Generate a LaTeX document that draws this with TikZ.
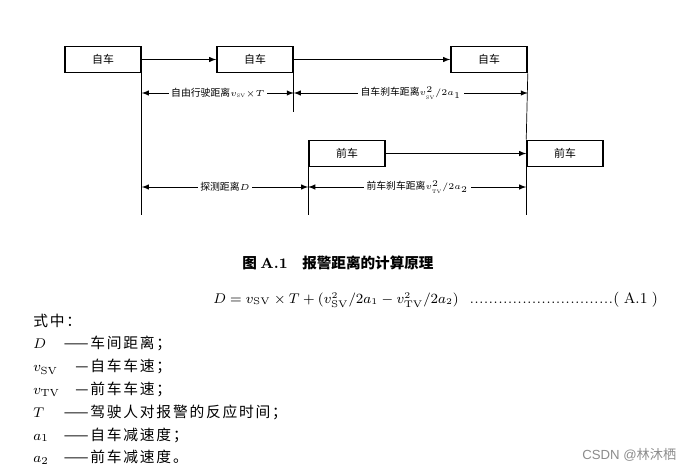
\documentclass[tikz,border=0pt]{standalone}
\usepackage{fontspec}
\newfontfamily\cjk{Noto Sans CJK SC}
\newfontfamily\cjkwide[LetterSpace=12]{Noto Sans CJK SC}
\newfontfamily\wmfont{Liberation Sans}
\usetikzlibrary{arrows,positioning}
\begin{document}
\begin{tikzpicture}
[x=0.02cm, y=-0.02cm, >=latex, font=\cjk\fontsize{6.2}{7}\selectfont]

\tikzstyle{car}=[rectangle, draw, line width=0.9pt, minimum width=1.52cm, minimum height=0.52cm, inner sep=0pt]
\tikzstyle{gap}=[fill=white, inner sep=1.5pt, font=\cjk\fontsize{5.6}{6}\selectfont]
\tikzstyle{item}=[anchor=base west, inner sep=0pt, font=\cjkwide\fontsize{8.4}{9}\selectfont]
\tikzstyle{rule}=[anchor=base east, inner sep=0pt, font=\cjk\fontsize{8.4}{9}\selectfont]

\useasboundingbox (0,0) rectangle (695,473);

\node[car]	(S1)	at (103,59.5)	{自车};
\node[car]	(S2)	at (255,59.5)	{自车};
\node[car]	(S3)	at (489,59.5)	{自车};
\node[car]	(F1)	at (347,153.5)	{前车};
\node[car]	(F2)	at (565,153.5)	{前车};

\coordinate	(mid)	at (0,112);
\coordinate	(low)	at (0,215);
\coordinate	(r1)	at (0,93);
\coordinate	(r2)	at (0,187);

\draw [->] (S1)--(S2);
\draw [->] (S2)--(S3);
\draw [->] (F1)--(F2);

\draw (S1.south east)--(S1.south east |- low);
\draw (S2.south east)--(S2.south east |- mid);
\draw (S3.south east)--(F2.north west);
\draw (F2.south west)--(F2.south west |- low);
\draw (F1.south west)--(F1.south west |- low);

\draw [<->] (S1.south east |- r1)-- node[gap] {自由行驶距离$\scriptstyle v_{\mathrm{SV}}{\times}T$} (S2.south east |- r1);
\draw [<->] (S2.south east |- r1)-- node[gap] {自车刹车距离$\scriptstyle v_{\mathrm{SV}}^2/2a_1$} (S3.south east |- r1);
\draw [<->] (S1.south east |- r2)-- node[gap] {探测距离$\scriptstyle D$} (F1.south west |- r2);
\draw [<->] (F1.south west |- r2)-- node[gap] {前车刹车距离$\scriptstyle v_{\mathrm{TV}}^2/2a_2$} (F2.south west |- r2);

\node[font=\cjk\bfseries\fontsize{8.3}{9}\selectfont] (cap) at (338,263) {图\ {\rmfamily\bfseries A.1}\quad 报警距离的计算原理};

\node[anchor=base west, inner sep=0pt, font=\fontsize{7.8}{9}\selectfont] (eq) at (213,303) {$D=v_{\mathrm{SV}}\times T+(v_{\mathrm{SV}}^2/2a_1-v_{\mathrm{TV}}^2/2a_2)$};
\node[anchor=base west, inner sep=0pt, font=\fontsize{7.8}{9}\selectfont] (dots) at (469,303) {\makebox[2.88cm]{\xleaders\hbox to 2.7pt{\hss.\hss}\hfill}};
\node[anchor=base west, inner sep=0pt, font=\fontsize{8.6}{10}\selectfont] (num) at (613,303) {(\hspace{2.5pt}A.1\hspace{2.5pt})};

\node[item]	(head)	at (33,326)	{式中：};
\node[item]	(sD)	at (33,348.8)	{$D$};
\node[item]	(sV1)	at (33,371.6)	{$v_{\mathrm{SV}}$};
\node[item]	(sV2)	at (33,394.4)	{$v_{\mathrm{TV}}$};
\node[item]	(sT)	at (33,417.2)	{$T$};
\node[item]	(sA1)	at (33,440)	{$a_1$};
\node[item]	(sA2)	at (33,462.8)	{$a_2$};

\foreach \y in {348.8,417.2,440,462.8}
	\node[rule] at (89,\y) {——};
\foreach \y in {371.6,394.4}
	\node[rule] at (89,\y) {—};

\node[item]	(tD)	at (90,348.8)	{车间距离；};
\node[item]	(tV1)	at (90,371.6)	{自车车速；};
\node[item]	(tV2)	at (90,394.4)	{前车车速；};
\node[item]	(tT)	at (90,417.2)	{驾驶人对报警的反应时间；};
\node[item]	(tA1)	at (90,440)	{自车减速度；};
\node[item]	(tA2)	at (90,462.8)	{前车减速度。};

\node[anchor=base west, inner sep=0pt, text=black!45, font=\wmfont\fontsize{7.5}{8}\selectfont] (csdn) at (582,459) {CSDN @{\cjk 林沐栖}};
\end{tikzpicture}
\end{document}
